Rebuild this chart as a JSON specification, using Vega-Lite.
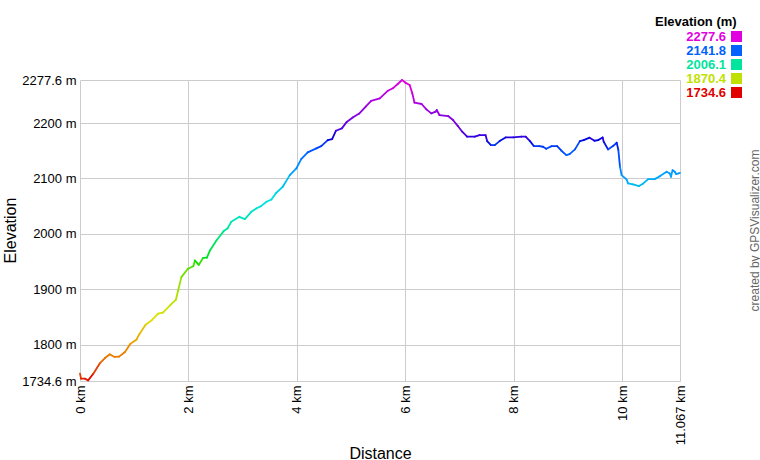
{
  "$schema": "https://vega.github.io/schema/vega-lite/v6.json",
  "width": 600,
  "height": 301,
  "autosize": {"type": "none"},
  "padding": {"left": 80, "top": 80, "right": 80, "bottom": 79},
  "background": "white",
  "config": {
    "view": {"stroke": null},
    "font": "Liberation Sans",
    "axis": {"labelFont": "Liberation Sans", "titleFont": "Liberation Sans", "gridColor": "#cccccc", "gridWidth": 1, "gridOpacity": 1}
  },
  "data": {"values": [
    {"d": 0, "e": 1747.8}, {"d": 0.02, "e": 1738.8}, {"d": 0.09, "e": 1738.8}, {"d": 0.15, "e": 1735.8},
    {"d": 0.245, "e": 1747.8}, {"d": 0.37, "e": 1767}, {"d": 0.46, "e": 1776}, {"d": 0.55, "e": 1782.7},
    {"d": 0.64, "e": 1778}, {"d": 0.72, "e": 1778.5}, {"d": 0.83, "e": 1787}, {"d": 0.93, "e": 1802},
    {"d": 1.04, "e": 1809}, {"d": 1.10, "e": 1820}, {"d": 1.21, "e": 1836}, {"d": 1.32, "e": 1844},
    {"d": 1.44, "e": 1856}, {"d": 1.53, "e": 1858}, {"d": 1.66, "e": 1871}, {"d": 1.77, "e": 1881.5},
    {"d": 1.81, "e": 1898}, {"d": 1.87, "e": 1922}, {"d": 1.99, "e": 1937}, {"d": 2.09, "e": 1941.7},
    {"d": 2.12, "e": 1952}, {"d": 2.19, "e": 1944}, {"d": 2.27, "e": 1956.7}, {"d": 2.34, "e": 1957},
    {"d": 2.40, "e": 1970.6}, {"d": 2.52, "e": 1988.6}, {"d": 2.65, "e": 2005}, {"d": 2.72, "e": 2009.7},
    {"d": 2.79, "e": 2021.7}, {"d": 2.94, "e": 2030.8}, {"d": 3.04, "e": 2026.6}, {"d": 3.16, "e": 2039.8},
    {"d": 3.25, "e": 2045.8}, {"d": 3.34, "e": 2050}, {"d": 3.44, "e": 2057.9}, {"d": 3.53, "e": 2062},
    {"d": 3.62, "e": 2074}, {"d": 3.74, "e": 2085}, {"d": 3.87, "e": 2106}, {"d": 3.99, "e": 2118},
    {"d": 4.08, "e": 2135}, {"d": 4.20, "e": 2147}, {"d": 4.36, "e": 2154.2}, {"d": 4.45, "e": 2158.4},
    {"d": 4.57, "e": 2169}, {"d": 4.65, "e": 2171}, {"d": 4.72, "e": 2186}, {"d": 4.83, "e": 2190.3},
    {"d": 4.92, "e": 2202}, {"d": 5.03, "e": 2210}, {"d": 5.15, "e": 2217}, {"d": 5.27, "e": 2229.4},
    {"d": 5.37, "e": 2240}, {"d": 5.53, "e": 2244.5}, {"d": 5.68, "e": 2258.3}, {"d": 5.77, "e": 2262.6},
    {"d": 5.86, "e": 2270.4}, {"d": 5.94, "e": 2277.6}, {"d": 6.0, "e": 2272.8}, {"d": 6.08, "e": 2268.6},
    {"d": 6.13, "e": 2253.5}, {"d": 6.17, "e": 2236.7}, {"d": 6.30, "e": 2234.3}, {"d": 6.39, "e": 2224.6},
    {"d": 6.48, "e": 2217.4}, {"d": 6.56, "e": 2220.4}, {"d": 6.58, "e": 2223.4}, {"d": 6.63, "e": 2214.4},
    {"d": 6.79, "e": 2212.6}, {"d": 6.88, "e": 2205.4}, {"d": 6.97, "e": 2194.5}, {"d": 7.05, "e": 2184.3},
    {"d": 7.14, "e": 2175.3}, {"d": 7.28, "e": 2175.3}, {"d": 7.37, "e": 2178.3}, {"d": 7.48, "e": 2178.3},
    {"d": 7.51, "e": 2167.4}, {"d": 7.58, "e": 2160.2}, {"d": 7.65, "e": 2160.2}, {"d": 7.74, "e": 2167.4},
    {"d": 7.85, "e": 2174}, {"d": 7.99, "e": 2174}, {"d": 8.14, "e": 2175.3}, {"d": 8.22, "e": 2175.3},
    {"d": 8.30, "e": 2167.4}, {"d": 8.37, "e": 2158.4}, {"d": 8.47, "e": 2158.4}, {"d": 8.54, "e": 2157.2},
    {"d": 8.60, "e": 2153.6}, {"d": 8.70, "e": 2158.4}, {"d": 8.80, "e": 2158.4}, {"d": 8.88, "e": 2150},
    {"d": 8.97, "e": 2142.2}, {"d": 9.03, "e": 2144}, {"d": 9.13, "e": 2152.4}, {"d": 9.22, "e": 2167.4},
    {"d": 9.29, "e": 2169.2}, {"d": 9.40, "e": 2173.5}, {"d": 9.49, "e": 2168}, {"d": 9.56, "e": 2169.2},
    {"d": 9.64, "e": 2174}, {"d": 9.66, "e": 2166.2}, {"d": 9.74, "e": 2152.4}, {"d": 9.83, "e": 2158.4},
    {"d": 9.90, "e": 2164.4}, {"d": 9.93, "e": 2151.2}, {"d": 9.96, "e": 2121}, {"d": 9.99, "e": 2106},
    {"d": 10.08, "e": 2098.2}, {"d": 10.11, "e": 2091}, {"d": 10.20, "e": 2089.2}, {"d": 10.31, "e": 2086.2},
    {"d": 10.39, "e": 2091}, {"d": 10.48, "e": 2098.8}, {"d": 10.60, "e": 2098.8}, {"d": 10.70, "e": 2104.2},
    {"d": 10.82, "e": 2112}, {"d": 10.88, "e": 2109}, {"d": 10.90, "e": 2103}, {"d": 10.93, "e": 2115},
    {"d": 10.97, "e": 2112}, {"d": 11.00, "e": 2107.8}, {"d": 11.067, "e": 2110}
  ]},
  "transform": [
    {"window": [{"op": "lead", "field": "d", "as": "d2"}, {"op": "lead", "field": "e", "as": "e2"}], "sort": [{"field": "d"}]},
    {"filter": "datum.d2 != null"}
  ],
  "layer": [
    {
      "mark": {"type": "rule", "strokeWidth": 1.8, "strokeCap": "round"},
      "encoding": {
        "x": {"field": "d", "type": "quantitative",
          "scale": {"domain": [0, 11.067], "nice": false, "zero": false},
          "axis": {"values": [0, 2, 4, 6, 8, 10, 11.067], "labelExpr": "datum.value + ' km'", "labelAngle": 270,
            "labelFontSize": 13, "labelColor": "#000000", "labelPadding": 4, "ticks": false, "domain": false,
            "title": "Distance", "titleFontSize": 16, "titleFontWeight": "normal", "titleColor": "#000000",
            "titleX": 300, "titleY": 77, "titleBaseline": "alphabetic", "titleAlign": "center"}},
        "x2": {"field": "d2"},
        "y": {"field": "e", "type": "quantitative",
          "scale": {"domain": [1734.6, 2277.6], "nice": false, "zero": false},
          "axis": {"values": [1734.6, 1800, 1900, 2000, 2100, 2200, 2277.6], "labelExpr": "datum.value + ' m'",
            "labelFontSize": 13, "labelColor": "#000000", "labelPadding": 4, "ticks": false, "domain": false,
            "title": "Elevation", "titleFontSize": 16, "titleFontWeight": "normal", "titleColor": "#000000",
            "titleX": -70, "titleY": 150, "titleBaseline": "middle", "titleAlign": "center", "titleAngle": 270}},
        "y2": {"field": "e2"},
        "color": {"field": "e", "type": "quantitative",
          "scale": {"domain": [1734.6, 1843.2, 1951.8, 2060.4, 2169, 2277.6],
            "range": ["#e00000", "#e0e000", "#00e000", "#00e0e0", "#0000e0", "#e000e0"]},
          "legend": {"type": "symbol", "values": [2277.6, 2141.8, 2006.1, 1870.4, 1734.6], "format": ".1f",
            "orient": "none", "legendX": 575, "legendY": -64, "direction": "vertical",
            "title": "Elevation (m)", "titleFontSize": 13, "titleFontWeight": "bold", "titleColor": "#000000", "titleFont": "Liberation Sans",
            "titlePadding": 1, "titleAnchor": "start",
            "labelFontSize": 13, "labelFontWeight": "bold", "labelFont": "Liberation Sans", "labelAlign": "right", "labelOffset": -17,
            "symbolType": "square", "symbolSize": 121, "symbolOffset": 75, "symbolStrokeWidth": 0, "rowPadding": -2,
            "encode": {
              "labels": {"update": {"fill": {"scale": "color", "field": "value"}}},
              "symbols": {"update": {"fill": {"scale": "color", "field": "value"}, "opacity": {"value": 1}, "fillOpacity": {"value": 1}, "strokeWidth": {"value": 0}}}
            }}
        }
      }
    },
    {
      "mark": {"type": "point", "opacity": 0},
      "encoding": {
        "x": {"field": "d", "type": "quantitative"},
        "y": {"field": "e", "type": "quantitative",
          "axis": {"orient": "right", "labels": false, "ticks": false, "domain": false, "grid": false,
            "title": "created by GPSVisualizer.com", "titleFontSize": 12, "titleFontWeight": "normal", "titleColor": "#666666",
            "titleAngle": 270, "titleX": 74, "titleY": 150, "titleBaseline": "middle", "titleAlign": "center"}}
      }
    }
  ],
  "resolve": {"axis": {"y": "independent"}}
}
